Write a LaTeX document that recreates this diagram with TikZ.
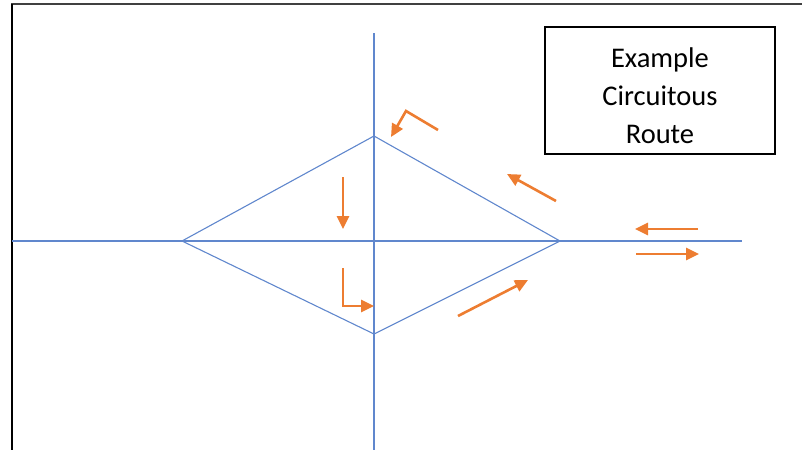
\documentclass[tikz,border=0pt]{standalone}
\usepackage{fontspec}
\setmainfont{Carlito}
\usetikzlibrary{arrows.meta}
\definecolor{axisblue}{HTML}{4472C4}
\definecolor{routeorange}{HTML}{ED7D31}

\begin{document}
\begin{tikzpicture}[x=1pt, y=-1pt,
    axis/.style={axisblue!85, line width=1.1pt},
    route/.style={-{Triangle[length=13pt, width=12pt]}, routeorange, line width=2.6pt},
    frame/.style={black, line width=2.4pt}]
  \useasboundingbox (0,0) rectangle (802,450);
  % frame
  \draw[frame, black!75, line width=1.6pt] (11,4) -- (802,4);
  \draw[frame] (12,4) -- (12,450);
  % axes
  \coordinate (west)  at (12,241);
  \coordinate (east)  at (742,241);
  \coordinate (north) at (374,33);
  \coordinate (south) at (374,450);
  \draw[axis] (west) -- (east);
  \draw[axis] (north) -- (south);
  % diamond
  \coordinate (dl) at (182,241);
  \coordinate (dt) at (374,136);
  \coordinate (dr) at (560,241);
  \coordinate (db) at (374,334);
  \draw[axis, line join=round] (dl) -- (dt) -- (dr) -- (db) -- cycle;
  % route arrows
  \coordinate (a1) at (438,130);
  \coordinate (a1k) at (406,111);
  \coordinate (a1e) at (391,137);
  \coordinate (a2) at (343,177);
  \coordinate (a2e) at (343,229);
  \coordinate (a3) at (343,268);
  \coordinate (a3k) at (343,306);
  \coordinate (a3e) at (374,306);
  \coordinate (a4) at (556,201);
  \coordinate (a4e) at (507,174);
  \coordinate (a5) at (458,316);
  \coordinate (a5e) at (528,280);
  \coordinate (a6) at (698,229);
  \coordinate (a6e) at (635,229);
  \coordinate (a7) at (636,254);
  \coordinate (a7e) at (699,254);
  \draw[route] (a1) -- (a1k) -- (a1e);
  \draw[route] (a2) -- (a2e);
  \draw[route] (a3) -- (a3k) -- (a3e);
  \draw[route] (a4) -- (a4e);
  \draw[route] (a5) -- (a5e);
  \draw[route] (a6) -- (a6e);
  \draw[route] (a7) -- (a7e);
  % legend box
  \node[draw, line width=1.6pt, minimum width=230pt, minimum height=127pt] (note) at (660,90.5) {};
  \node[align=center, font=\fontsize{28.5}{38}\selectfont] (label) at (660,95.5)
    {Example\\Circuitous\\Route};
\end{tikzpicture}
\end{document}
